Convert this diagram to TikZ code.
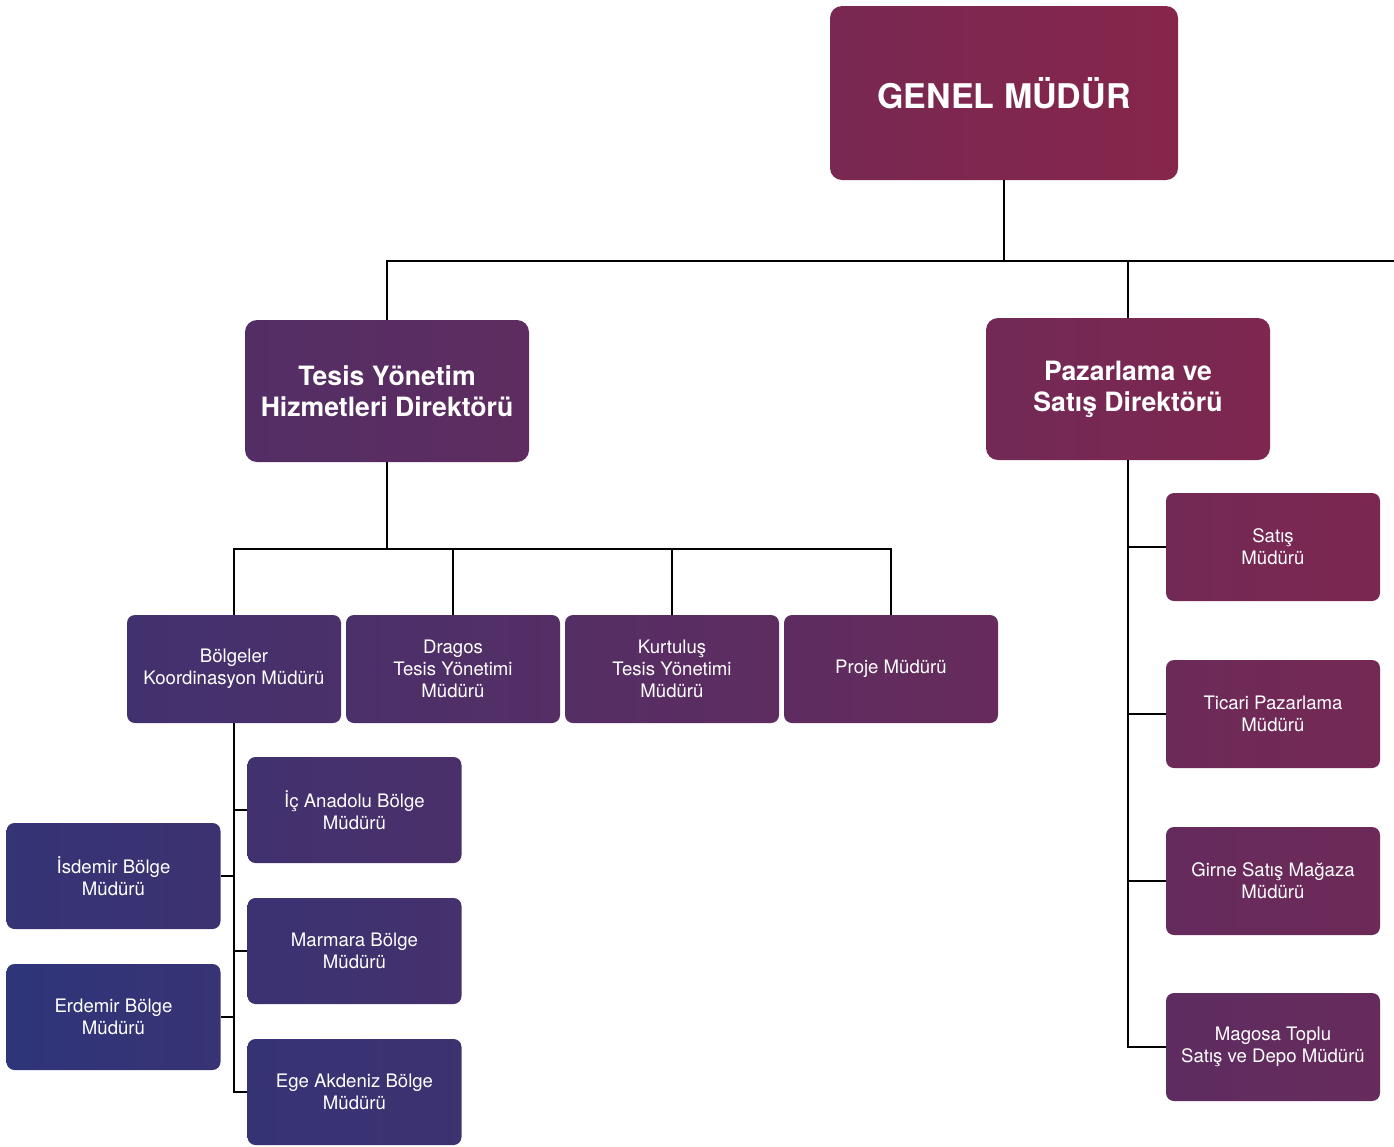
\documentclass[tikz,border=0pt]{standalone}
\usepackage{fontspec}
\setmainfont{TeX Gyre Heros}
\definecolor{cB}{HTML}{2C357A}
\definecolor{cR}{HTML}{8A2549}

\begin{document}
\begin{tikzpicture}[x=0.5pt,y=-0.5pt,
    tone/.style 2 args={left color=cR!#1!cB, right color=cR!#2!cB},
    box/.style={rounded corners=4pt, text=white, align=center, inner sep=0pt,
      minimum width=107pt, minimum height=54pt, font=\fontsize{9.3}{11}\selectfont},
    dir/.style={box, minimum width=142pt, minimum height=71pt, rounded corners=6pt,
      font=\fontsize{13.3}{15.5}\selectfont\bfseries},
    link/.style={draw, line width=1pt}]
  \useasboundingbox (0,0) rectangle (1394,1147);

  % top
  \node [box, tone={81}{96}, minimum width=174pt, minimum height=87pt, rounded corners=6pt,
    font=\fontsize{17}{20}\selectfont\bfseries] (genel) at (1004,93) {GENEL MÜDÜR};
  \node [dir, tone={41}{54}] (tesis) at (387,391) {Tesis Yönetim\\Hizmetleri Direktörü};
  \node [dir, tone={74}{87}] (pazar) at (1128,389) {Pazarlama ve\\Satış Direktörü};

  % tesis row
  \node [box, tone={23}{33}] (bolg) at (234,669) {Bölgeler\\Koordinasyon Müdürü};
  \node [box, tone={33}{43}] (dragos) at (453,669) {Dragos\\Tesis Yönetimi\\Müdürü};
  \node [box, tone={43}{53}] (kurt) at (672,669) {Kurtuluş\\Tesis Yönetimi\\Müdürü};
  \node [box, tone={53}{62}] (proje) at (891,669) {Proje Müdürü};

  % bolgeler
  \node [box, tone={22}{32}, minimum height=53pt] (icanad) at (354.5,810) {İç Anadolu Bölge\\Müdürü};
  \node [box, tone={16}{26}, minimum height=53pt] (marmara) at (354.5,951) {Marmara Bölge\\Müdürü};
  \node [box, tone={10}{19}, minimum height=53pt] (ege) at (354.5,1092) {Ege Akdeniz Bölge\\Müdürü};
  \node [box, tone={9}{18}, minimum height=53pt] (isdemir) at (113.5,876) {İsdemir Bölge\\Müdürü};
  \node [box, tone={2}{12}, minimum height=53pt] (erdemir) at (113.5,1017) {Erdemir Bölge\\Müdürü};

  % pazarlama
  \node [box, tone={75}{85}] (satis) at (1273,547) {Satış\\Müdürü};
  \node [box, tone={68}{77}] (ticari) at (1273,714) {Ticari Pazarlama\\Müdürü};
  \node [box, tone={60}{70}] (girne) at (1273,881) {Girne Satış Mağaza\\Müdürü};
  \node [box, tone={53}{62}] (magosa) at (1273,1047) {Magosa Toplu\\Satış ve Depo Müdürü};

  \coordinate (busR) at (1394,261);
  \coordinate (tbus) at (387,549);

  \draw [link] (genel.south) -- (genel.south |- busR);
  \draw [link] (tesis.north) |- (busR);
  \draw [link] (pazar.north) -- (pazar.north |- busR);

  \draw [link] (tesis) -- (tbus);
  \draw [link] (bolg.north) |- (tbus) -| (proje.north);
  \draw [link] (dragos) -- (dragos |- tbus);
  \draw [link] (kurt) -- (kurt |- tbus);

  \draw [link] (bolg.south) |- (ege.west);
  \draw [link] (icanad.west) -- (icanad.west -| bolg.south);
  \draw [link] (marmara.west) -- (marmara.west -| bolg.south);
  \draw [link] (isdemir.east) -- (isdemir.east -| bolg.south);
  \draw [link] (erdemir.east) -- (erdemir.east -| bolg.south);

  \draw [link] (pazar.south) |- (magosa.west);
  \draw [link] (satis.west) -- (satis.west -| pazar.south);
  \draw [link] (ticari.west) -- (ticari.west -| pazar.south);
  \draw [link] (girne.west) -- (girne.west -| pazar.south);
\end{tikzpicture}
\end{document}
